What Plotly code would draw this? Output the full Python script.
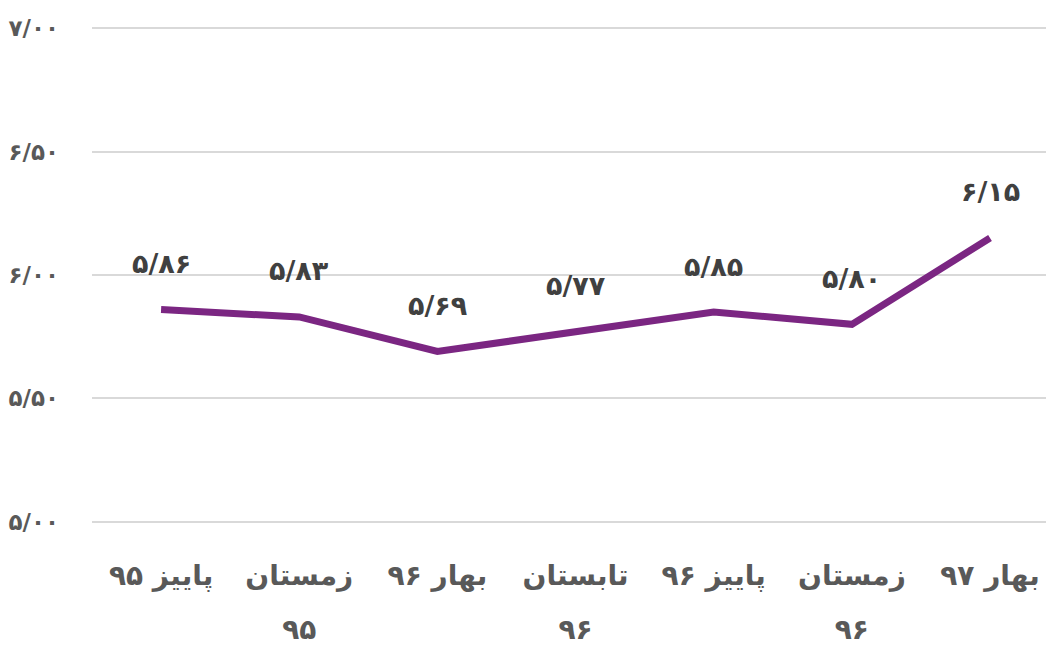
import plotly.graph_objects as go

cat_line1 = ["پاییز ۹۵", "زمستان", "بهار ۹۶", "تابستان", "پاییز ۹۶", "زمستان", "بهار ۹۷"]
cat_line2 = ["", "۹۵", "", "۹۶", "", "۹۶", ""]
values = [5.86, 5.83, 5.69, 5.77, 5.85, 5.80, 6.15]
y_ticks = [5.0, 5.5, 6.0, 6.5, 7.0]

FA = str.maketrans("0123456789.", "۰۱۲۳۴۵۶۷۸۹/")


def fa(v):
    return f"{v:.2f}".translate(FA)


x_idx = list(range(len(cat_line1)))
XR = [-0.5, 6.463]

fig = go.Figure()
fig.add_trace(go.Scatter(
    x=x_idx, y=values, mode="lines",
    line=dict(color="#7B2682", width=7),
    hoverinfo="skip", showlegend=False,
))
# invisible trace to carry the second tick-label row
fig.add_trace(go.Scatter(
    x=x_idx, y=values, mode="lines", xaxis="x2",
    line=dict(color="rgba(0,0,0,0)", width=0),
    hoverinfo="skip", showlegend=False,
))

for xi, v in zip(x_idx, values):
    fig.add_annotation(
        x=xi, y=v, text=fa(v), showarrow=False, yshift=46,
        font=dict(family="DejaVu Sans", size=27, color="#404040", weight="bold"),
        yanchor="middle",
    )

tickfont = dict(size=28, color="#595959", family="DejaVu Sans", weight="bold")

fig.update_layout(
    width=1046, height=640,
    margin=dict(l=84, r=0, t=19, b=125),
    paper_bgcolor="white", plot_bgcolor="white",
    font=dict(family="DejaVu Sans", color="#595959"),
    xaxis=dict(
        tickmode="array", tickvals=x_idx, ticktext=cat_line1,
        range=XR, showgrid=False, zeroline=False,
        showline=False, ticks="", automargin=False,
        tickfont=tickfont, ticklabelstandoff=33,
    ),
    xaxis2=dict(
        tickmode="array", tickvals=x_idx, ticktext=cat_line2,
        range=XR, showgrid=False, zeroline=False, overlaying="x",
        side="bottom", anchor="y",
        showline=False, ticks="", automargin=False,
        tickfont=tickfont, ticklabelstandoff=87,
    ),
    yaxis=dict(
        range=[4.995, 7.005], tickmode="array", tickvals=y_ticks,
        ticktext=[fa(t) for t in y_ticks],
        showgrid=True, gridcolor="#D9D9D9", gridwidth=2,
        zeroline=False, showline=False, ticks="", automargin=False,
        tickfont=dict(size=23, color="#595959", family="DejaVu Sans", weight="bold"),
        ticklabelstandoff=32,
    ),
)

fig.write_html("out.html")
